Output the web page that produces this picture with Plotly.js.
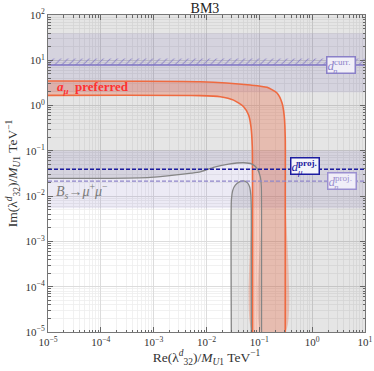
<!DOCTYPE html>
<html>
<head>
<meta charset="utf-8">
<script src="https://cdn.plot.ly/plotly-3.0.1.min.js"></script>
<style>html,body{margin:0;padding:0;background:#fff;}#chart{width:374px;height:371px;}</style>
</head>
<body>
<div id="chart"></div>
<script>
// ---- data ----
const xRange = [1e-5, 10];
const yRange = [1e-5, 100];

const xTickVals = [1e-5, 1e-4, 1e-3, 1e-2, 1e-1, 1, 10];
const xTickText = ['10<sup>−5</sup>', '10<sup>−4</sup>', '10<sup>−3</sup>', '10<sup>−2</sup>', '10<sup>−1</sup>', '10<sup>0</sup>', '10<sup>1</sup>'];
const yTickVals = [1e-5, 1e-4, 1e-3, 1e-2, 1e-1, 1, 10, 100];
const yTickText = ['10<sup>−5</sup>', '10<sup>−4</sup>', '10<sup>−3</sup>', '10<sup>−2</sup>', '10<sup>−1</sup>', '10<sup>0</sup>', '10<sup>1</sup>', '10<sup>2</sup>'];

// a_mu preferred band: outer and inner boundaries
const amuOuterX = [1e-5, 0.0076, 0.0675, 0.14, 0.216, 0.269, 0.297, 0.31, 0.31, 0.31];
const amuOuterY = [3.48, 3.35, 2.84, 2.53, 1.89, 1.14, 0.567, 0.173, 0.01, 1e-5];
const amuInnerX = [1e-5, 0.0076, 0.0182, 0.0326, 0.0504, 0.0626, 0.0695, 0.0736, 0.0746, 0.0746];
const amuInnerY = [1.68, 1.66, 1.57, 1.32, 0.942, 0.618, 0.34, 0.123, 0.01, 1e-5];

// B_s -> mu mu contour (outer) and inner arch
const bsX = [1e-5, 9.8e-5, 8.6e-4, 0.00764, 0.0147, 0.0262, 0.0504, 0.0726, 0.0903, 0.1044, 0.109, 0.11, 0.11];
const bsY = [0.0247, 0.0247, 0.026, 0.0345, 0.0445, 0.051, 0.0546, 0.051, 0.041, 0.0267, 0.016, 0.003, 1e-5];
const archX = [0.0295, 0.0296, 0.0315, 0.0351, 0.0418, 0.0504, 0.0592, 0.0654, 0.069, 0.0705, 0.0705];
const archY = [1e-5, 0.0082, 0.0136, 0.0175, 0.0207, 0.0218, 0.0199, 0.0161, 0.0105, 0.0049, 1e-5];

// EDM bands and limits
const dnCurrBand = [1.96, 39.5];
const dnCurrLimit = 7.85;
const dnCurrHatch = [7.85, 11.0];
const projBand = [0.0054, 0.1];
const dmuProjLimit = 0.0395;
const dnProjLimit = 0.0215;

// ---- build traces ----
const serif = 'Liberation Serif, Times New Roman, serif';
const traces = [];

// grey excluded region (complement of B_s-allowed region)
traces.push({
  x: bsX.concat([xRange[1], xRange[1], xRange[0]]),
  y: bsY.concat([yRange[0], yRange[1], yRange[1]]),
  mode: 'lines', line: {width: 0, shape: 'spline', smoothing: 0.5}, fill: 'toself',
  fillcolor: 'rgba(0,0,0,0.10)', hoverinfo: 'skip', showlegend: false
});
traces.push({
  x: archX, y: archY,
  mode: 'lines', line: {width: 0, shape: 'spline', smoothing: 0.5}, fill: 'toself',
  fillcolor: 'rgba(0,0,0,0.10)', hoverinfo: 'skip', showlegend: false
});

// lavender bands
function band(lo, hi) {
  return {
    x: [xRange[0], xRange[1], xRange[1], xRange[0]], y: [lo, lo, hi, hi],
    mode: 'lines', line: {width: 0}, fill: 'toself',
    fillcolor: 'rgba(95,80,170,0.12)', hoverinfo: 'skip', showlegend: false
  };
}
traces.push(band(dnCurrBand[0], dnCurrBand[1]));
traces.push(band(projBand[0], projBand[1]));

// hatch above current d_n limit
traces.push({
  x: [xRange[0], xRange[1], xRange[1], xRange[0]], y: [dnCurrHatch[0], dnCurrHatch[0], dnCurrHatch[1], dnCurrHatch[1]],
  mode: 'lines', line: {width: 0}, fill: 'toself', fillcolor: 'rgba(0,0,0,0)',
  fillpattern: {shape: '/', fgcolor: '#8f86c8', bgcolor: 'rgba(0,0,0,0)', size: 5, solidity: 0.18},
  hoverinfo: 'skip', showlegend: false
});

// a_mu band fill
traces.push({
  x: amuOuterX.concat(amuInnerX.slice().reverse()),
  y: amuOuterY.concat(amuInnerY.slice().reverse()),
  mode: 'lines', line: {width: 0, shape: 'spline', smoothing: 0.6}, fill: 'toself',
  fillcolor: 'rgba(235,105,70,0.33)', hoverinfo: 'skip', showlegend: false
});
// a_mu boundaries
[[amuOuterX, amuOuterY], [amuInnerX, amuInnerY]].forEach(function (c) {
  traces.push({x: c[0], y: c[1], mode: 'lines', line: {color: '#ef6a40', width: 1.6, shape: 'spline', smoothing: 0.6},
    hoverinfo: 'skip', showlegend: false});
});

// B_s contour lines
[[bsX, bsY], [archX, archY]].forEach(function (c) {
  traces.push({x: c[0], y: c[1], mode: 'lines', line: {color: '#858585', width: 1.3, shape: 'spline', smoothing: 0.5},
    hoverinfo: 'skip', showlegend: false});
});

// limit lines
traces.push({x: xRange, y: [dnCurrLimit, dnCurrLimit], mode: 'lines', line: {color: '#7f74c4', width: 1.6},
  hoverinfo: 'skip', showlegend: false});
traces.push({x: xRange, y: [dnProjLimit, dnProjLimit], mode: 'lines', line: {color: '#8f85c9', width: 1.3, dash: '4px,2px'},
  hoverinfo: 'skip', showlegend: false});
traces.push({x: xRange, y: [dmuProjLimit, dmuProjLimit], mode: 'lines', line: {color: '#1c1ca0', width: 1.5, dash: '4px,2px'},
  hoverinfo: 'skip', showlegend: false});

// ---- layout ----
function axis(vals, text, rng, title, standoff) {
  return {
    type: 'log', range: [Math.log10(rng[0]), Math.log10(rng[1])],
    tickmode: 'array', tickvals: vals, ticktext: text,
    tickfont: {family: serif, size: 11, color: '#333'},
    ticks: 'inside', ticklen: 5, tickcolor: '#666', tickwidth: 1,
    showline: true, linecolor: '#777', linewidth: 1, mirror: 'ticks',
    showgrid: true, gridcolor: '#dcdcdc', gridwidth: 1,
    minor: {dtick: 'D1', ticks: 'inside', ticklen: 2.5, tickcolor: '#666', showgrid: true, gridcolor: '#eeeeee', gridwidth: 0.8},
    zeroline: false, fixedrange: true,
    title: {text: title, font: {family: serif, size: 13.5, color: '#333'}, standoff: standoff}
  };
}

function box(x, y, txt, color, bg) {
  return {xref: 'paper', yref: 'paper', x: x, y: y, xanchor: 'center', yanchor: 'middle', showarrow: false,
    width: 27, height: 15, align: 'left', valign: 'middle', borderpad: 0,
    bordercolor: color, borderwidth: 1.5, bgcolor: bg,
    text: txt, font: {family: serif, size: 13, color: color}};
}
function sub(x, y, txt, color) {
  return {xref: 'paper', yref: 'paper', x: x, y: y, xanchor: 'center', yanchor: 'middle', showarrow: false,
    text: txt, font: {family: serif, size: 9, color: color}};
}

const layout = {
  width: 374, height: 371,
  margin: {l: 48, r: 9, t: 15, b: 39},
  paper_bgcolor: '#ffffff', plot_bgcolor: '#ffffff',
  title: {text: 'BM3', font: {family: serif, size: 14, color: '#222'}, x: 0.548, xanchor: 'center', y: 0.979, yanchor: 'middle', yref: 'container'},
  xaxis: axis(xTickVals, xTickText, xRange, 'Re(λ<sup><i>d</i></sup><sub>32</sub>)/<i>M</i><sub><i>U</i>1</sub> TeV<sup>−1</sup>', 4),
  yaxis: axis(yTickVals, yTickText, yRange, 'Im(λ<sup><i>d</i></sup><sub>32</sub>)/<i>M</i><sub><i>U</i>1</sub> TeV<sup>−1</sup>', 4),
  showlegend: false,
  annotations: [
    {xref: 'paper', yref: 'paper', x: 0.022, y: 0.771, xanchor: 'left', yanchor: 'middle', showarrow: false,
     text: '<b><i>a</i><sub><i>μ</i></sub>  preferred</b>', font: {family: serif, size: 13, color: '#ff3030'}},
    {xref: 'paper', yref: 'paper', x: 0.02, y: 0.446, xanchor: 'left', yanchor: 'middle', showarrow: false,
     text: '<i>B<sub>s</sub></i>→<i>μ</i><sup>+</sup><i>μ</i><sup>−</sup>', font: {family: serif, size: 14, color: '#7a7a7a'}},
    box(0.925, 0.841, '<i>d</i><sup>curr.</sup>', '#8a80c8', '#f1eff8'),
    sub(0.908, 0.824, '<i>n</i>', '#8a80c8'),
    box(0.812, 0.524, '<i>d</i><sup><b>proj.</b></sup>', '#1c1ca0', '#f4f4fa'),
    sub(0.795, 0.506, '<i>μ</i>', '#1c1ca0'),
    box(0.926, 0.475, '<i>d</i><sup>proj.</sup>', '#9b90d0', '#f0eef8'),
    sub(0.909, 0.457, '<i>n</i>', '#9b90d0')
  ]
};

Plotly.newPlot('chart', traces, layout, {staticPlot: true, displayModeBar: false});
</script>
</body>
</html>
